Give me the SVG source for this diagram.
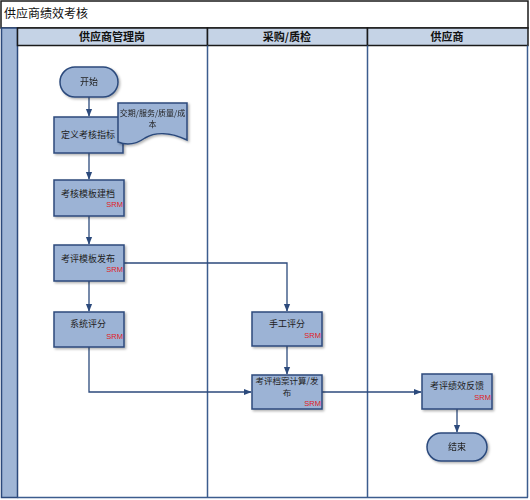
<svg xmlns="http://www.w3.org/2000/svg" width="530" height="500" viewBox="0 0 530 500">
<defs>
<style>
.frame{fill:none;stroke:#1a1a1a;stroke-width:1.5}
.hdr{fill:#c5d3e6;stroke:#1a1a1a;stroke-width:1.5}
.lane{stroke:#3c5d8e;stroke-width:1.5;fill:none}
.node{fill:#9cb3d5;stroke:#2c4a7c;stroke-width:1.5}
.t{font-family:"Noto Sans CJK SC","Liberation Sans",sans-serif;font-size:9px;fill:#222;text-anchor:middle}
.s7{font-size:8px}
.s85{font-size:8.5px}
.h{font-family:"Noto Sans CJK SC","Liberation Serif",serif;font-size:11px;font-weight:bold;fill:#111;text-anchor:middle}
.srm{font-family:"Liberation Sans",sans-serif;font-size:7.5px;fill:#e0201e;text-anchor:end}
.c{fill:none;stroke:#2c4a7c;stroke-width:1.3;marker-end:url(#arr)}
</style>
<marker id="arr" viewBox="0 0 10 10" refX="9" refY="5" markerWidth="6" markerHeight="6" orient="auto">
<path d="M0,1 L10,5 L0,9 z" fill="#2c4a7c"/>
</marker>
<filter id="sh" x="-10%" y="-10%" width="130%" height="140%">
<feDropShadow dx="1.5" dy="1.5" stdDeviation="0.8" flood-color="#000" flood-opacity="0.3"/>
</filter>
</defs>
<rect width="530" height="500" fill="#fff"/>
<g id="title">
<rect x="1" y="1" width="527" height="27" class="frame"/>
<text x="4" y="18" font-family="'Noto Sans CJK SC','Liberation Serif',serif" font-size="12" fill="#111">供应商绩效考核</text>
</g>
<g id="pool">
<rect x="1.5" y="28" width="16" height="469.5" fill="#a0b6d6" stroke="#2c4a7c" stroke-width="1.5"/>
<rect x="17.5" y="28" width="190" height="17.5" class="hdr"/>
<rect x="207.5" y="28" width="160" height="17.5" class="hdr"/>
<rect x="367.5" y="28" width="160.5" height="17.5" class="hdr"/>
<text x="112" y="41" class="h">供应商管理岗</text>
<text x="287" y="41" class="h">采购/质检</text>
<text x="447" y="41" class="h">供应商</text>
<line x1="207.5" y1="45.5" x2="207.5" y2="497.5" class="lane"/>
<line x1="367.5" y1="45.5" x2="367.5" y2="497.5" class="lane"/>
<line x1="527.5" y1="45.5" x2="527.5" y2="497.5" class="lane"/>
<line x1="17.5" y1="497.5" x2="528" y2="497.5" class="lane"/>
</g>
<g id="connectors">
<path d="M89,97 V116" class="c"/>
<path d="M89,153 V179" class="c"/>
<path d="M89,216 V244" class="c"/>
<path d="M89,281 V311" class="c"/>
<path d="M124,263 H287 V311" class="c"/>
<path d="M287,346 V374" class="c"/>
<path d="M89,347 V392 H251" class="c"/>
<path d="M322,392 H421" class="c"/>
<path d="M457,409 V432" class="c"/>
</g>
<g id="start" filter="url(#sh)">
<rect x="60" y="67" width="58" height="30" rx="15" class="node"/>
<text x="89" y="85" class="t">开始</text>
</g>
<g id="define">
<rect x="54" y="117" width="69" height="36" class="node" filter="url(#sh)"/>
<text x="88" y="138" class="t">定义考核指标</text>
</g>
<g id="doc" filter="url(#sh)">
<path d="M118,103 H187 V140 C170,132 155,132 145,138 C135,145 125,145 118,142 Z" class="node"/>
<text x="152.5" y="116" class="t s7">交期/服务/质量/成</text>
<text x="152.5" y="127" class="t s7">本</text>
</g>
<g id="archive">
<rect x="54" y="180" width="70" height="36" class="node" filter="url(#sh)"/>
<text x="88" y="197" class="t">考核模板建档</text>
<text x="123" y="207" class="srm">SRM</text>
</g>
<g id="publish">
<rect x="54" y="245" width="70" height="36" class="node" filter="url(#sh)"/>
<text x="88" y="262" class="t">考评模板发布</text>
<text x="123" y="272" class="srm">SRM</text>
</g>
<g id="sysscore">
<rect x="54" y="312" width="70" height="35" class="node" filter="url(#sh)"/>
<text x="88" y="327" class="t">系统评分</text>
<text x="123" y="339" class="srm">SRM</text>
</g>
<g id="manual">
<rect x="252" y="312" width="70" height="34" class="node" filter="url(#sh)"/>
<text x="287" y="327" class="t">手工评分</text>
<text x="321" y="338" class="srm">SRM</text>
</g>
<g id="calc">
<rect x="252" y="375" width="70" height="34" class="node" filter="url(#sh)"/>
<text x="287" y="384" class="t s85">考评档案计算/发</text>
<text x="287" y="396" class="t s85">布</text>
<text x="321" y="406" class="srm">SRM</text>
</g>
<g id="feedback">
<rect x="422" y="374" width="70" height="35" class="node" filter="url(#sh)"/>
<text x="457" y="389" class="t">考评绩效反馈</text>
<text x="491" y="400" class="srm">SRM</text>
</g>
<g id="end" filter="url(#sh)">
<rect x="427" y="433" width="60" height="28" rx="14" class="node"/>
<text x="457" y="450" class="t">结束</text>
</g>
</svg>
